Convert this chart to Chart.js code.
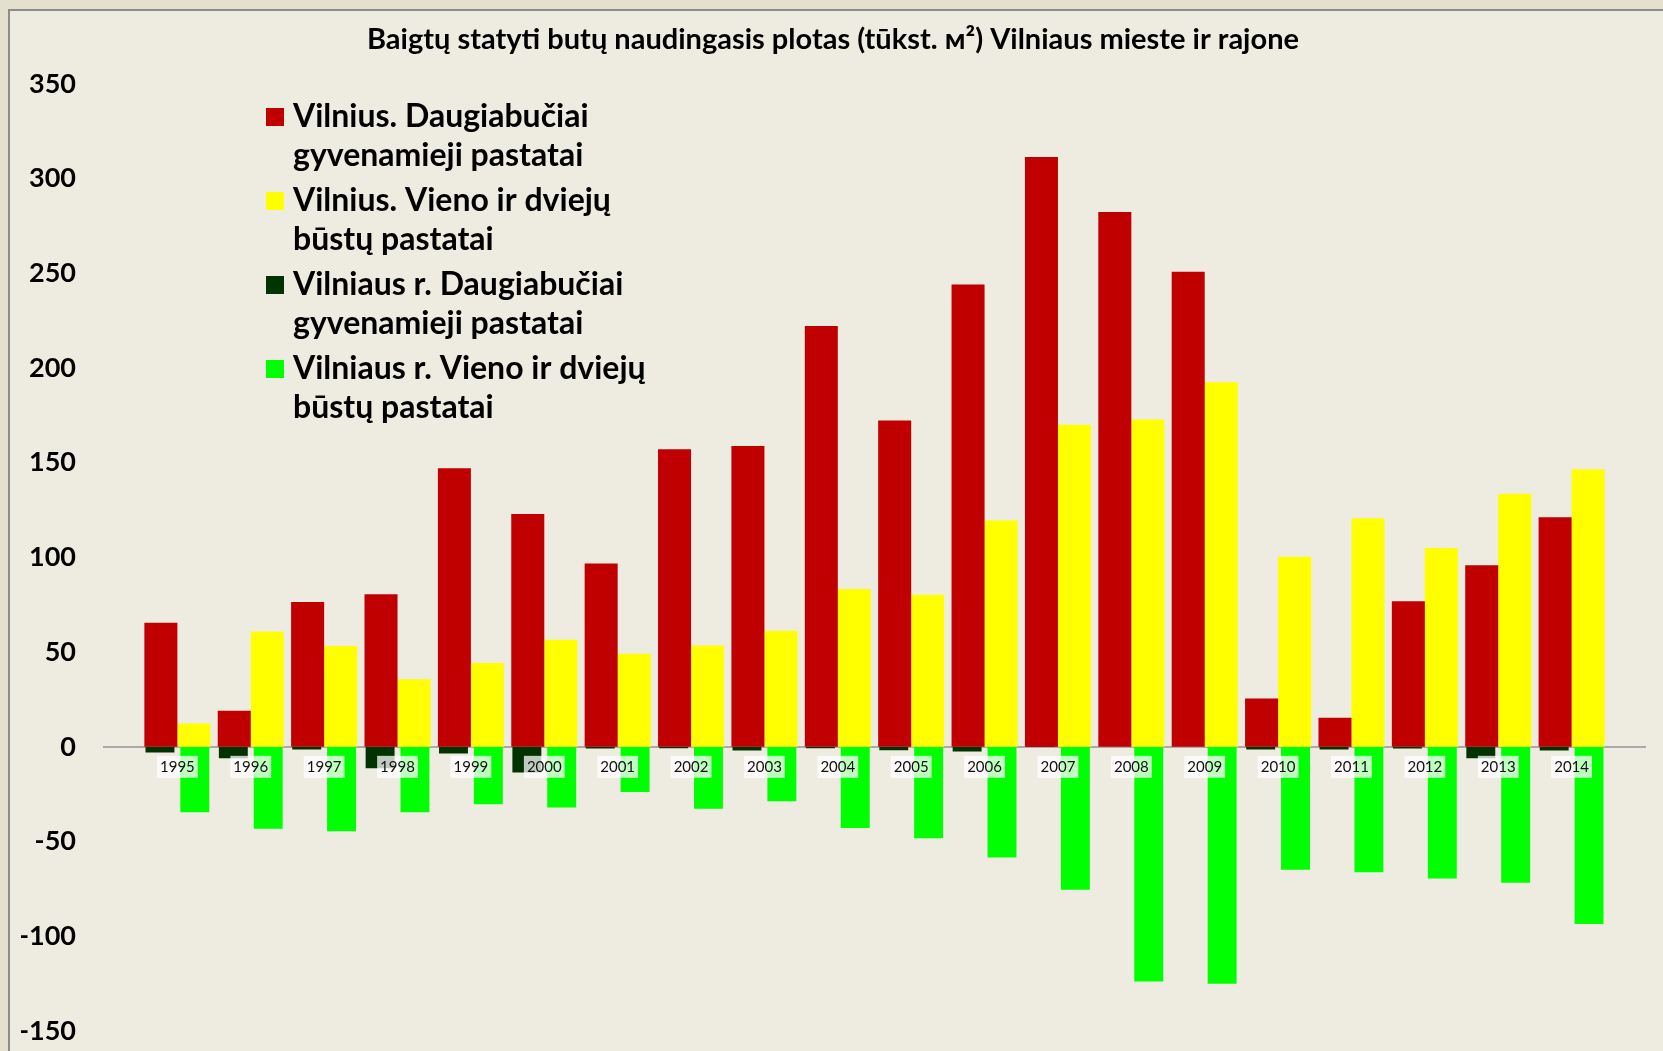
<!DOCTYPE html>
<html>
<head>
<meta charset="utf-8">
<script src="https://cdn.jsdelivr.net/npm/chart.js@4.4.0/dist/chart.umd.min.js"></script>
<style>
body { margin: 0; background: #e3e0cd; }
canvas { display: block; }
</style>
</head>
<body>
<canvas id="grafikas" width="1663" height="1051"></canvas>
<script>
// Duomenys (tūkst. m²) //
const metai = ['1995', '1996', '1997', '1998', '1999', '2000', '2001', '2002', '2003', '2004',
               '2005', '2006', '2007', '2008', '2009', '2010', '2011', '2012', '2013', '2014'];
const vilniusDaugiabuciai = [65.5, 19.0, 76.4, 80.6, 147.0, 122.9, 96.8, 157.1, 158.8, 222.2,
                             172.3, 244.1, 311.4, 282.3, 250.8, 25.5, 15.3, 76.8, 95.9, 121.2];
const vilniusVienoDvieju = [12.3, 60.9, 53.2, 35.7, 44.2, 56.5, 49.1, 53.5, 61.3, 83.3,
                            80.3, 119.5, 170.0, 172.8, 192.5, 100.4, 120.7, 104.9, 133.6, 146.5];
const rajonasDaugiabuciai = [-3.0, -6.0, -1.4, -11.3, -3.5, -13.6, -0.9, -0.7, -1.9, -0.7,
                             -1.8, -2.5, 0.5, 0, 0, -1.4, -1.4, -0.9, -6.0, -1.9];
const rajonasVienoDvieju = [-34.5, -43.3, -44.5, -34.5, -30.3, -32.0, -23.8, -32.7, -28.7, -42.8,
                            -48.2, -58.4, -75.5, -123.9, -125.0, -64.9, -66.2, -69.5, -71.8, -93.5];
const yMin = -150, yMax = 350, yZingsnis = 50;

const pavadinimai = [
    ['Vilnius. Daugiabučiai', 'gyvenamieji pastatai'],
    ['Vilnius. Vieno ir dviejų', 'būstų pastatai'],
    ['Vilniaus r. Daugiabučiai', 'gyvenamieji pastatai'],
    ['Vilniaus r. Vieno ir dviejų', 'būstų pastatai']
];
const spalvos = ['#c00000', '#ffff00', '#003300', '#00ff00'];
const antraste = 'Baigtų statyti butų naudingasis plotas (tūkst. м²) Vilniaus mieste ir rajone';
// -------------------------------- //

// tuščios vietos kraštuose, kaip Excel'io grafike
const etiketes = [''].concat(metai, ['']);
function papildyti(arr) {
    return [null].concat(arr, [null]);
}

// Fonas ir rėmelis //
const fonas = {
    id: 'fonas',
    beforeDraw(chart) {
        const ctx = chart.ctx;
        ctx.save();
        ctx.fillStyle = '#e3e0cd';
        ctx.fillRect(0, 0, chart.width, chart.height);
        ctx.fillStyle = '#eeece1';
        ctx.fillRect(9, 10, chart.width, chart.height);
        ctx.strokeStyle = '#8c8c8c';
        ctx.lineWidth = 2;
        ctx.beginPath();
        ctx.moveTo(9, chart.height);
        ctx.lineTo(9, 10);
        ctx.lineTo(chart.width, 10);
        ctx.stroke();
        ctx.restore();
    }
};

// Legenda grafiko viduje //
const legenda = {
    id: 'legenda',
    afterDraw(chart) {
        const ctx = chart.ctx;
        ctx.save();
        ctx.font = 'bold 32px Lato';
        ctx.textBaseline = 'alphabetic';
        chart.data.datasets.forEach(function (ds, i) {
            const y = 127 + i * 84;
            ctx.fillStyle = ds.backgroundColor;
            ctx.fillRect(266, y - 19, 18, 18);
            ctx.fillStyle = '#000';
            pavadinimai[i].forEach(function (eil, j) {
                ctx.fillText(eil, 293, y + j * 39);
            });
        });
        ctx.restore();
    }
};

// raudona + tamsiai žalia vienoje vietoje, geltona + žalia kitoje
const duomenys = {
    labels: etiketes,
    datasets: [{
        label: pavadinimai[0].join(' '),
        data: papildyti(vilniusDaugiabuciai),
        backgroundColor: spalvos[0],
        stack: 'miestas',
        categoryPercentage: 0.9,
        barPercentage: 1.0
    }, {
        label: pavadinimai[1].join(' '),
        data: papildyti(vilniusVienoDvieju),
        backgroundColor: spalvos[1],
        stack: 'rajonas',
        categoryPercentage: 0.9,
        barPercentage: 1.0
    }, {
        label: pavadinimai[2].join(' '),
        data: papildyti(rajonasDaugiabuciai),
        backgroundColor: spalvos[2],
        stack: 'miestas',
        categoryPercentage: 0.95,
        barPercentage: 0.83
    }, {
        label: pavadinimai[3].join(' '),
        data: papildyti(rajonasVienoDvieju),
        backgroundColor: spalvos[3],
        stack: 'rajonas',
        categoryPercentage: 0.95,
        barPercentage: 0.83
    }]
};

const konfig = {
    type: 'bar',
    data: duomenys,
    options: {
        responsive: false,
        animation: false,
        layout: {
            padding: { left: 21, right: 18, top: 0, bottom: 20 }
        },
        plugins: {
            legend: { display: false },
            tooltip: { enabled: false },
            title: {
                display: true,
                text: antraste,
                color: '#000',
                font: { family: 'Lato', size: 29, weight: 'bold' },
                padding: { top: 22, bottom: 27 }
            }
        },
        scales: {
            x: {
                position: { y: 0 },
                offset: false,
                grid: { display: true, drawOnChartArea: false, drawTicks: false },
                border: { display: true, color: '#aaaaaa', width: 2 },
                ticks: {
                    z: 1,
                    autoSkip: false,
                    maxRotation: 0,
                    padding: 11,
                    color: '#111',
                    font: { family: 'Lato', size: 15 },
                    showLabelBackdrop: true,
                    backdropColor: c => (c.tick && c.tick.label) ? 'rgba(255,255,255,0.75)' : 'rgba(0,0,0,0)',
                    backdropPadding: { x: 3, y: 2 }
                },
                afterFit: function (s) { s.height = 0; }
            },
            y: {
                stacked: false,
                min: yMin,
                max: yMax,
                grid: { display: false, drawTicks: false },
                border: { display: false },
                ticks: {
                    stepSize: yZingsnis,
                    padding: 28,
                    color: '#000',
                    font: { family: 'Lato', size: 27, weight: 'bold' }
                },
                afterFit: function (s) {
                    s.width = 83;
                    s.paddingTop = 0;
                    s.paddingBottom = 0;
                }
            }
        }
    },
    plugins: [fonas, legenda]
};

var grafikas = new Chart(document.getElementById('grafikas'), konfig);
</script>
</body>
</html>
